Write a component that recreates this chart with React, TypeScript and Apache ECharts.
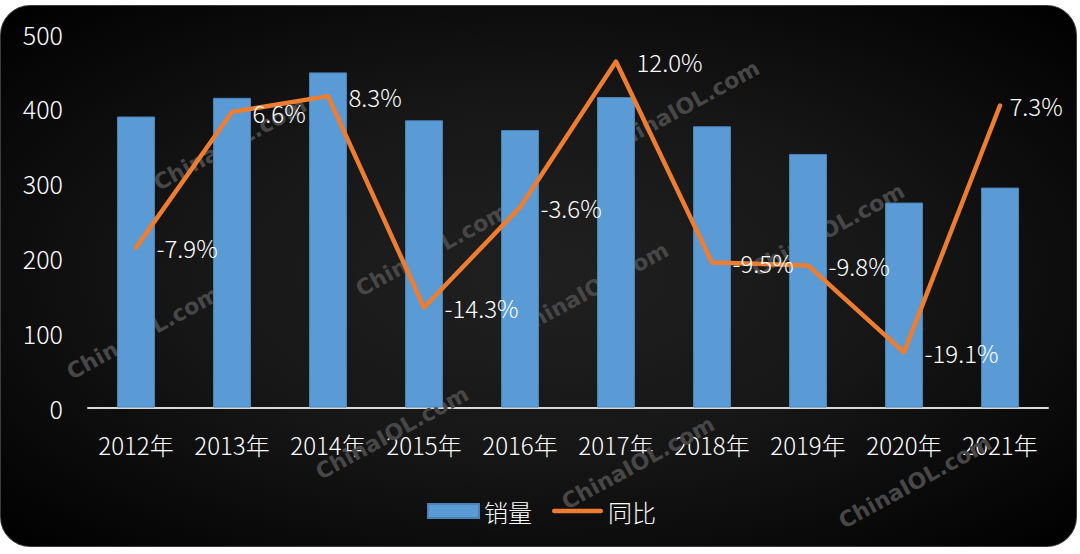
import React, { useEffect, useRef } from "react";
import * as echarts from "echarts";

const categories = ["2012年", "2013年", "2014年", "2015年", "2016年", "2017年", "2018年", "2019年", "2020年", "2021年"];
const salesValues = [389, 414, 448, 384, 371, 415, 376, 339, 274, 294];
const growthValues = [-7.9, 6.6, 8.3, -14.3, -3.6, 12.0, -9.5, -9.8, -19.1, 7.3];
const seriesNames = ["销量", "同比"];
const watermarkText = "ChinaIOL.com";

// decorative watermark placements (centre x, centre y)
const watermarkSpots: [number, number][] = [
  [230, 144],
  [143, 333],
  [432, 250],
  [392, 433],
  [592, 289],
  [683, 107],
  [828, 230],
  [638, 463],
  [915, 482],
];

const FONT = '"Noto Sans CJK SC", "Noto Sans", sans-serif';
const WEIGHT = 300;

export default function App() {
  const ref = useRef<HTMLDivElement>(null);

  useEffect(() => {
    if (!ref.current) return;
    const chart = echarts.init(ref.current, undefined, { renderer: "svg" });
    const lineData = growthValues.map((v, i) =>
      i === growthValues.length - 1 ? { value: v, label: { distance: 9 } } : v
    );
    const option: any = {
      animation: false,
      backgroundColor: "transparent",
      textStyle: { fontFamily: FONT, fontWeight: WEIGHT },
      graphic: watermarkSpots.map(([x, y]) => ({
        type: "text",
        x,
        y,
        rotation: 0.5,
        z: 1,
        silent: true,
        style: {
          text: watermarkText,
          fill: "#474747",
          font: 'bold 22px "DejaVu Sans", sans-serif',
          textAlign: "center",
          textVerticalAlign: "middle",
        },
      })),
      grid: { left: 88, top: 33.5, width: 960, height: 374, containLabel: false },
      legend: {
        left: 422,
        top: 494,
        itemWidth: 51,
        itemHeight: 14,
        itemGap: 20,
        textStyle: { color: "#ffffff", fontSize: 24, fontFamily: FONT, fontWeight: WEIGHT },
        data: [
          { name: seriesNames[0], icon: "rect" },
          {
            name: seriesNames[1],
            icon: "path://M2.5,0 H53.5 A2.5,2.5 0 0 1 53.5,5 H2.5 A2.5,2.5 0 0 1 2.5,0 Z",
          },
        ],
      },
      xAxis: {
        type: "category",
        data: categories,
        axisLine: { show: true, lineStyle: { color: "#d9d9d9", width: 2 } },
        axisTick: { show: false },
        axisLabel: {
          color: "#ffffff",
          fontSize: 24,
          margin: 25,
          interval: 0,
          fontFamily: FONT,
          fontWeight: WEIGHT,
        },
        splitLine: { show: false },
      },
      yAxis: [
        {
          type: "value",
          min: 0,
          max: 500,
          interval: 100,
          axisLine: { show: false },
          axisTick: { show: false },
          splitLine: { show: false },
          axisLabel: { color: "#ffffff", fontSize: 25, margin: 25, fontFamily: FONT, fontWeight: WEIGHT },
        },
        {
          type: "value",
          min: -25,
          max: 15,
          show: false,
          splitLine: { show: false },
        },
      ],
      series: [
        {
          name: seriesNames[0],
          type: "bar",
          data: salesValues,
          barWidth: 38,
          yAxisIndex: 0,
          z: 2,
          itemStyle: { color: "#5B9BD5", borderColor: "#4a83b8", borderWidth: 1 },
        },
        {
          name: seriesNames[1],
          type: "line",
          data: lineData,
          yAxisIndex: 1,
          z: 3,
          symbol: "circle",
          symbolSize: 1,
          showSymbol: true,
          itemStyle: { color: "#ED7D31" },
          lineStyle: { color: "#ED7D31", width: 4.5, cap: "round", join: "round" },
          label: {
            show: true,
            position: "right",
            distance: 20,
            color: "#ffffff",
            fontSize: 24,
            fontFamily: FONT,
            fontWeight: WEIGHT,
            formatter: (p: any) => `${Number(p.value).toFixed(1)}%`,
          },
        },
      ],
    };
    chart.setOption(option);
    return () => chart.dispose();
  }, []);

  return (
    <div
      style={{
        position: "fixed",
        left: 0,
        top: 0,
        width: 1080,
        height: 554,
        background: "#ffffff",
        overflow: "hidden",
      }}
    >
      <div
        style={{
          position: "absolute",
          left: 0,
          top: 5,
          width: 1077,
          height: 542,
          boxSizing: "border-box",
          borderRadius: 30,
          border: "1px solid #3c3c3c",
          background:
            "radial-gradient(ellipse at 50% 50%, #202020 0%, #171717 45%, #000000 100%)",
        }}
      />
      <div ref={ref} style={{ position: "absolute", left: 0, top: 0, width: 1080, height: 554 }} />
    </div>
  );
}
